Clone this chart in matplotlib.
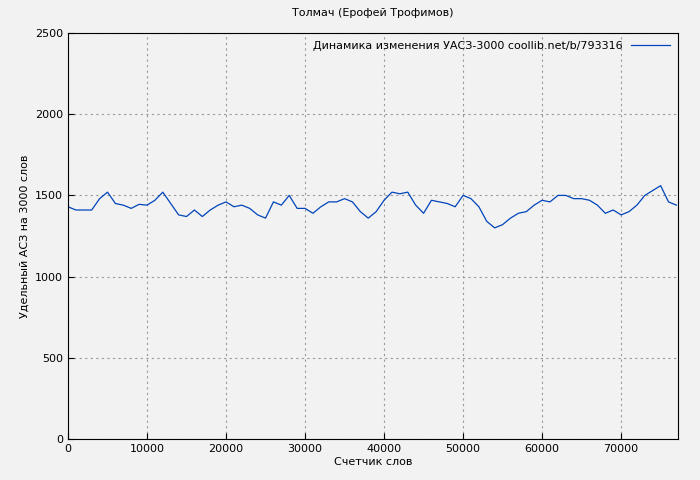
import matplotlib
matplotlib.use("Agg")
import matplotlib.pyplot as plt

words = list(range(0, 78000, 1000))
asz = [1430, 1410, 1410, 1410, 1480, 1520, 1450, 1440, 1420, 1445,
       1440, 1470, 1520, 1450, 1380, 1370, 1410, 1370, 1410, 1440,
       1460, 1430, 1440, 1420, 1380, 1360, 1460, 1440, 1500, 1420,
       1420, 1390, 1430, 1460, 1460, 1480, 1460, 1400, 1360, 1400,
       1470, 1520, 1510, 1520, 1440, 1390, 1470, 1460, 1450, 1430,
       1500, 1480, 1430, 1340, 1300, 1320, 1360, 1390, 1400, 1440,
       1470, 1460, 1500, 1500, 1480, 1480, 1470, 1440, 1390, 1410,
       1380, 1400, 1440, 1500, 1530, 1560, 1460, 1440]

plt.rcParams['font.size'] = 8
fig = plt.figure(figsize=(7, 4.8), dpi=100, facecolor='#f2f2f2')
ax = fig.add_axes([68/700, 41/480, 610/700, 406/480], facecolor='#f2f2f2')

ax.plot(words, asz, color='#0044bb', linewidth=0.9,
        label='Динамика изменения УАСЗ-3000 coollib.net/b/793316')
ax.set_xlim(0, 77200)
ax.set_ylim(0, 2500)
ax.set_xticks(range(0, 77000, 10000))
ax.set_yticks(range(0, 2501, 500))
ax.grid(True, linestyle=(0, (2, 3)), color='#999999', linewidth=0.8)
ax.tick_params(direction='in', length=4)
ax.set_title('Толмач (Ерофей Трофимов)', fontsize=8, pad=12)
ax.set_xlabel('Счетчик слов', labelpad=2)
ax.set_ylabel('Удельный АСЗ на 3000 слов')
ax.legend(loc='upper right', frameon=False, markerfirst=False,
          handlelength=3.5, borderaxespad=0.3)

fig.savefig('out.png', dpi=100, facecolor=fig.get_facecolor())
